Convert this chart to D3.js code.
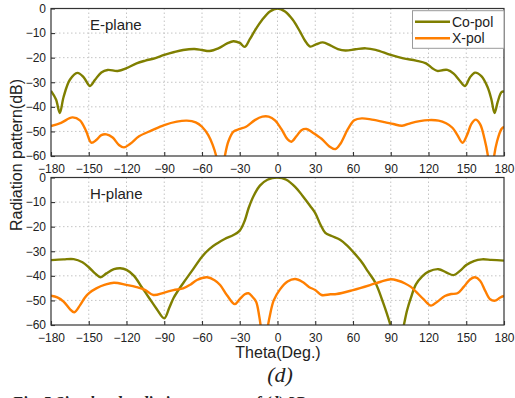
<!DOCTYPE html>
<html>
<head>
<meta charset="utf-8">
<script src="https://cdn.jsdelivr.net/npm/d3@7"></script>
<style>
  html, body { margin: 0; padding: 0; background: #fff; }
  svg { display: block; }
  text { font-family: "Liberation Sans", Arial, sans-serif; fill: #222; }
</style>
</head>
<body>
<svg id="chart" width="515" height="398"></svg>
<script>
// Angle ticks shared by both panels
const thetaTicks = [-180, -150, -120, -90, -60, -30, 0, 30, 60, 90, 120, 150, 180];
const dbTicks = [-60, -50, -40, -30, -20, -10, 0];

// E-plane co-polar pattern (theta in degrees, gain in dB)
const eCoTheta = [-180,-176,-173,-170,-165,-159,-154,-149,-145,-140,-135,-127,-120,-112,-105,-97,-90,-82,-75,-66,-60,-54,-47,-40,-35,-30,-26,-22,-18,-12,-6,0,6,12,18,22,26,31,36,42,48,54,62,70,78,90,100,110,118,123,127,131,135,140,145,149,153,157,162,167,170,172.5,175,178,180];
const eCoDb    = [-33.5,-37,-42.5,-36,-29,-26.2,-28,-31.5,-29,-26,-25,-25.4,-24.3,-22.3,-21.2,-20.2,-18.9,-17.7,-16.9,-16.5,-16.9,-17.3,-16.2,-14.2,-13.3,-14,-15.6,-12.5,-9,-4.5,-1.2,0,-1.2,-4.5,-9.5,-13.2,-15.5,-14.5,-13.8,-15,-16.5,-17.1,-16.6,-16.2,-16.8,-18.9,-20.3,-21.2,-22.3,-24.3,-25.4,-25.1,-25,-26.5,-29.5,-31.5,-28,-26.1,-27.5,-32,-37,-42.5,-38,-34,-33.8];

// E-plane cross-polar pattern
const eXTheta = [-180,-172,-163,-157,-152,-148,-144,-140,-136,-131,-126,-122,-117,-110,-100,-90,-80,-72,-65,-60,-55,-51.5,-48.5,-45.3,-42,-39,-35,-30,-25,-18,-12,-7,-2,3,8,11,15,19,23,28,35,41,46,50,56,61,67,75,85,92,99,106,113,120,128,134,139,143,147,151,154,157.5,161,164.5,167.4,169.7,172,174.5,178,180];
const eXDb    = [-47.8,-46.5,-44.3,-45.5,-50,-54.6,-53.5,-51.5,-51.2,-52.5,-55.5,-56.5,-55,-52,-49.6,-47.4,-46,-45.6,-46.3,-48.1,-51.5,-55.5,-60.5,-72,-60.5,-54,-50.1,-49,-48.1,-45.4,-44,-44,-45.5,-49,-53.2,-54.2,-52,-49.5,-49,-50.5,-53,-56,-57.2,-55,-49,-45.5,-44.7,-45.2,-46.2,-47,-47.7,-46.6,-45.8,-45.4,-45.6,-46.7,-48.5,-51.5,-54.6,-51,-47,-45.2,-47,-53,-60.5,-72,-60.5,-54,-49,-48.1];

// H-plane co-polar pattern
const hCoTheta = [-180,-170,-162,-155,-150,-145,-140.5,-136,-130,-125,-120,-114,-108,-102,-96,-90,-86,-82.7,-79,-75,-68,-60,-54,-48,-42,-35,-30,-26,-23,-19,-14,-8,0,7,14,20,26,30,34,38,43,50,55,60,66,72,78,84,87,90,95,100,103,106,110,115,120,128,134,140,145,150,156,162.5,170,180];
const hCoDb    = [-33.6,-33.3,-33.2,-34.5,-36.5,-39,-40.6,-39,-37.3,-36.9,-37.6,-40,-44.5,-49,-53.5,-57.3,-53,-49.1,-46,-43,-38,-32.2,-29,-26.8,-25,-23.4,-21.6,-17.5,-12.5,-7.5,-3.3,-0.9,0,-0.9,-3.8,-7.5,-11.6,-14.5,-19,-22.5,-23.8,-25.4,-27.5,-30.2,-33.8,-38.3,-43,-51,-55.5,-60.5,-72,-61,-54,-49,-43.5,-40.2,-38.3,-37.3,-38.6,-39.7,-38,-35.6,-34,-33.3,-33.5,-33.8];

// H-plane cross-polar pattern
const hXTheta = [-180,-175,-170,-165,-161.5,-157,-153,-150,-144,-137,-130,-120,-112,-105,-98.6,-90,-82.7,-75,-69,-64,-56,-50,-45.6,-40,-34,-30,-26,-23,-20,-17,-14.5,-13.2,-10.5,-7.8,-6,-3,2,8,14,20,25,30,35,42,47,60,74,82,90,96,101,106,110,116,122,127,133,138,143,148,153,157,161,165,169,173,177,180];
const hXDb    = [-48.1,-48.8,-50.5,-53.5,-54.8,-52,-48.8,-47.1,-45.1,-43.6,-42.8,-43.7,-44.6,-45.8,-47.8,-46.8,-45.8,-45.1,-43.5,-41.7,-40.6,-41.8,-43.7,-48,-51.5,-49.5,-47.5,-47.1,-48.5,-50.5,-56.5,-61,-72,-61,-56,-50,-45.5,-42.3,-41.3,-42.5,-44.5,-45.8,-47.8,-47.5,-47.4,-45.8,-43.7,-42.4,-41.4,-42,-43,-44.5,-46.4,-49.5,-52.1,-50.5,-48.2,-47.4,-47.1,-44.5,-41.5,-40.6,-42,-46,-49.5,-50.1,-48.8,-48.2];

const seriesNames = ["Co-pol", "X-pol"];
const seriesColors = ["#7f7f00", "#ff7f00"];

const svg = d3.select("#chart");
const left = 51, right = 504;

const x = d3.scaleLinear().domain([-180, 180]).range([left, right]);

const panels = [
  { id: "e", label: "E-plane", top: 8.5, bottom: 156,
    series: [[eCoTheta, eCoDb], [eXTheta, eXDb]], legend: true },
  { id: "h", label: "H-plane", top: 177.5, bottom: 325,
    series: [[hCoTheta, hCoDb], [hXTheta, hXDb]], legend: false }
];

panels.forEach(p => {
  const y = d3.scaleLinear().domain([-60, 0]).range([p.bottom, p.top]);
  const g = svg.append("g");

  // clip so deep nulls are cut at the -60 dB floor
  svg.append("clipPath").attr("id", "clip-" + p.id)
    .append("rect").attr("x", left).attr("y", p.top)
    .attr("width", right - left).attr("height", p.bottom - p.top);

  // dotted grid
  const grid = g.append("g").attr("stroke", "#c4c4c4").attr("stroke-width", 1)
    .attr("stroke-dasharray", "1.5,2.5");
  grid.selectAll(".gx").data(thetaTicks.slice(1, -1)).join("line")
    .attr("x1", d => x(d)).attr("x2", d => x(d))
    .attr("y1", p.top).attr("y2", p.bottom);
  grid.selectAll(".gy").data(dbTicks.slice(1, -1)).join("line")
    .attr("x1", left).attr("x2", right)
    .attr("y1", d => y(d)).attr("y2", d => y(d));

  // curves
  const line = d3.line()
    .x(d => x(d[0])).y(d => y(d[1]))
    .curve(d3.curveCatmullRom.alpha(0.5));
  const curves = g.append("g").attr("clip-path", `url(#clip-${p.id})`);
  p.series.forEach((s, i) => {
    const pts = s[0].map((t, k) => [t, s[1][k]]);
    curves.append("path").datum(pts)
      .attr("d", line).attr("fill", "none")
      .attr("stroke", seriesColors[i]).attr("stroke-width", 2.4)
      .attr("stroke-linejoin", "round");
  });

  // axes with inward ticks
  const xAxis = d3.axisBottom(x).tickValues(thetaTicks).tickSizeInner(-4).tickSizeOuter(0).tickPadding(8);
  const yAxis = d3.axisLeft(y).tickValues(dbTicks).tickSizeInner(-4).tickSizeOuter(0).tickPadding(5);
  const gx = g.append("g").attr("transform", `translate(0,${p.bottom})`).call(xAxis);
  const gy = g.append("g").attr("transform", `translate(${left},0)`).call(yAxis);
  [gx, gy].forEach(a => {
    a.select(".domain").remove();
    a.selectAll(".tick line").attr("stroke", "#333").attr("stroke-width", 1.1);
    a.selectAll(".tick text").attr("font-size", 12).attr("fill", "#222")
      .style("font-family", "'Liberation Sans', Arial, sans-serif");
  });

  // frame
  g.append("rect").attr("x", left).attr("y", p.top)
    .attr("width", right - left).attr("height", p.bottom - p.top)
    .attr("fill", "none").attr("stroke", "#333").attr("stroke-width", 1.2);

  // panel title
  g.append("text").attr("x", 90).attr("y", p.top + 21)
    .attr("font-size", 15).text(p.label);

  if (p.legend) {
    const lg = g.append("g");
    lg.append("rect").attr("x", 412.5).attr("y", 10.7)
      .attr("width", 91.5).attr("height", 37.6)
      .attr("fill", "#fff").attr("stroke", "#9a9a9a").attr("stroke-width", 1);
    seriesNames.forEach((n, i) => {
      const ly = 21.7 + i * 16.6;
      lg.append("line").attr("x1", 415).attr("x2", 450)
        .attr("y1", ly).attr("y2", ly)
        .attr("stroke", seriesColors[i]).attr("stroke-width", 2.4);
      lg.append("text").attr("x", 452).attr("y", ly).attr("dy", "0.36em")
        .attr("font-size", 14).text(n);
    });
  }
});

// axis titles
svg.append("text").attr("x", 278).attr("y", 358)
  .attr("text-anchor", "middle").attr("font-size", 16).text("Theta(Deg.)");
svg.append("text")
  .attr("transform", "translate(22,155) rotate(-90)")
  .attr("text-anchor", "middle").attr("font-size", 16).text("Radiation pattern(dB)");

// sub-figure label
svg.append("text").attr("x", 280).attr("y", 382)
  .attr("text-anchor", "middle").attr("font-size", 22)
  .style("font-family", "'Liberation Serif', 'Times New Roman', serif")
  .style("font-style", "italic").text("(d)");

// caption line running off the bottom edge
svg.append("text").attr("x", 12).attr("y", 407.5)
  .attr("font-size", 16).attr("font-weight", "bold")
  .style("font-family", "'Liberation Serif', 'Times New Roman', serif")
  .style("font-style", "italic")
  .text("Fig. 5  Simulated radiation patterns of (d) 2D");
</script>
</body>
</html>
